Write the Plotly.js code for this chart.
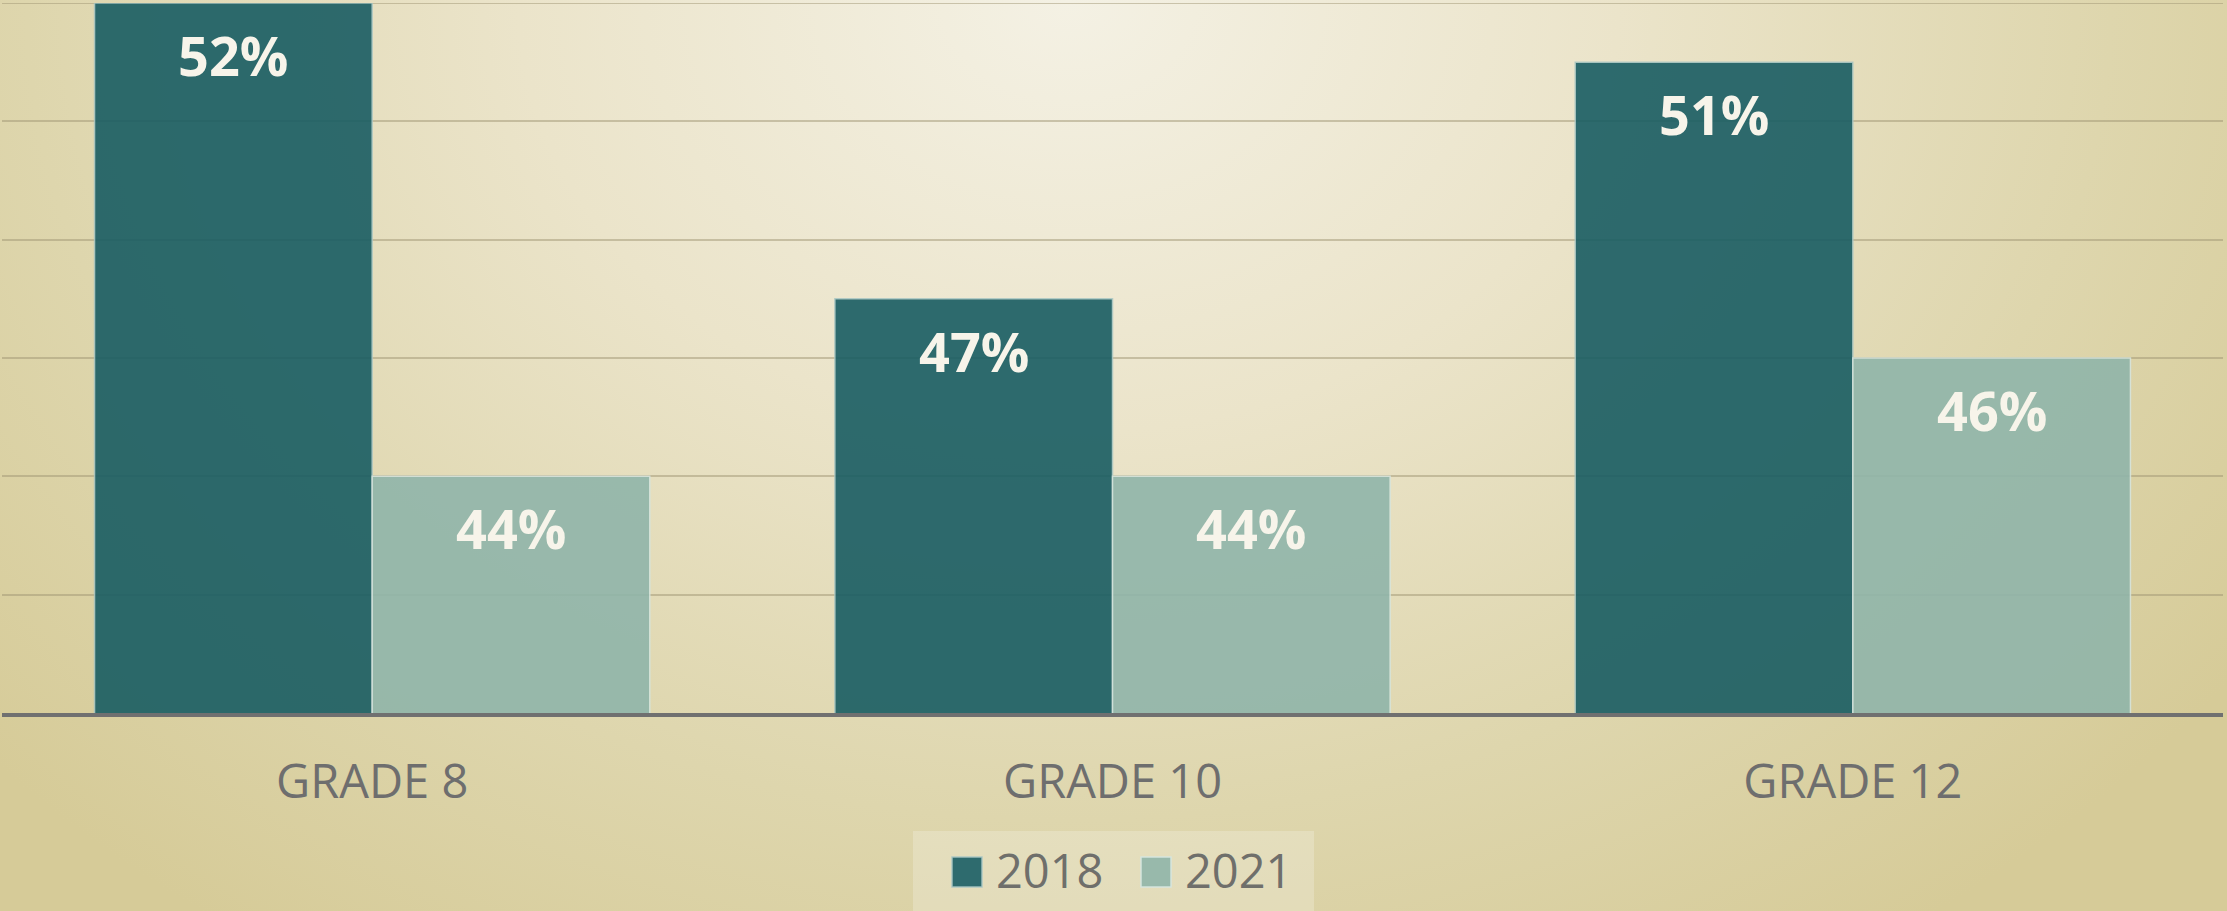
<!DOCTYPE html>
<html>
<head>
<meta charset="utf-8">
<script src="https://cdn.plot.ly/plotly-3.0.1.min.js"></script>
<style>
  html, body { margin: 0; padding: 0; width: 2227px; height: 911px; overflow: hidden; }
  body {
    background: radial-gradient(ellipse 65% 125% at 48% 0%, #f4f1e4 0%, #ebe4ca 38%, #ded6ad 72%, #d6cb98 100%);
  }
  #chart { width: 2227px; height: 911px; }
</style>
</head>
<body>
<div id="chart"></div>
<script>
var categories = ['GRADE 8', 'GRADE 10', 'GRADE 12'];
var seriesNames = ['2018', '2021'];
var values2018 = [52, 47, 51];
var values2021 = [44, 44, 46];

var colors = ['rgb(25,93,99)', 'rgb(144,181,170)'];
var lineColors = ['rgba(170,200,196,0.9)', 'rgba(215,230,222,0.95)'];
var legendColors = ['#2e6b6e', '#98b9ab'];
var allValues = [values2018, values2021];

var W = 2227, H = 911;
var margin = {l: 2, r: 4, t: 3, b: 198};
var plotW = W - margin.l - margin.r, plotH = H - margin.t - margin.b;
function px2x(px) { return (px - margin.l) / plotW; }
function py2y(py) { return (H - margin.b - py) / plotH; }

var yRange = [40, 52];
var bargap = 0.25;
var barW = (1 - bargap) / seriesNames.length;

var traces = seriesNames.map(function (name, j) {
  return {
    type: 'bar',
    name: name,
    x: categories,
    y: allValues[j],
    marker: { color: colors[j], opacity: 0.9, line: { color: lineColors[j], width: 1.5 } },
    hoverinfo: 'x+y+name',
    showlegend: false
  };
});

var annotations = [];
seriesNames.forEach(function (name, j) {
  allValues[j].forEach(function (v, i) {
    annotations.push({
      xref: 'x', yref: 'y',
      x: i + (j - (seriesNames.length - 1) / 2) * barW,
      y: v,
      text: v + '%',
      showarrow: false,
      yanchor: 'middle',
      yshift: -52,
      font: { family: 'Open Sans', size: 54, color: '#f7f4ea', weight: 'bold' }
    });
  });
});

// top gridline (Plotly hides the gridline at the range edge)
var shapes = [{
  type: 'line', xref: 'paper', yref: 'y', layer: 'below',
  x0: 0, x1: 1, y0: yRange[1], y1: yRange[1],
  line: { color: 'rgba(160,150,115,0.5)', width: 2 }
}];

// manual legend
shapes.push({
  type: 'rect', xref: 'paper', yref: 'paper', layer: 'below',
  x0: px2x(913), x1: px2x(1314), y0: py2y(831), y1: py2y(920),
  fillcolor: 'rgba(255,255,255,0.22)', line: { width: 0 }
});
var legendSquareX = [952, 1141];
seriesNames.forEach(function (name, j) {
  shapes.push({
    type: 'rect', xref: 'paper', yref: 'paper',
    x0: px2x(legendSquareX[j]), x1: px2x(legendSquareX[j] + 30),
    y0: py2y(857), y1: py2y(887),
    fillcolor: legendColors[j], line: { color: lineColors[j], width: 1.5 }
  });
  annotations.push({
    xref: 'paper', yref: 'paper',
    x: px2x(legendSquareX[j] + 42), y: py2y(870),
    xanchor: 'left', yanchor: 'middle',
    text: name, showarrow: false,
    font: { family: 'Open Sans', size: 47, color: '#6f6f6b' }
  });
});

var layout = {
  width: W, height: H,
  margin: margin,
  paper_bgcolor: 'rgba(0,0,0,0)',
  plot_bgcolor: 'rgba(0,0,0,0)',
  barmode: 'group',
  bargap: bargap,
  bargroupgap: 0,
  showlegend: false,
  xaxis: {
    type: 'category',
    showgrid: false,
    showline: true,
    linecolor: '#707070',
    linewidth: 4,
    ticks: 'outside',
    ticklen: 25,
    tickcolor: 'rgba(0,0,0,0)',
    tickfont: { family: 'Open Sans', size: 47, color: '#6e6e6e' },
    zeroline: false,
    fixedrange: true
  },
  yaxis: {
    range: yRange,
    dtick: 2,
    tick0: 40,
    showgrid: true,
    gridcolor: 'rgba(160,150,115,0.5)',
    gridwidth: 2,
    showticklabels: false,
    showline: false,
    zeroline: false,
    fixedrange: true
  },
  annotations: annotations,
  shapes: shapes
};

Plotly.newPlot('chart', traces, layout, { displayModeBar: false, staticPlot: true });
</script>
</body>
</html>
